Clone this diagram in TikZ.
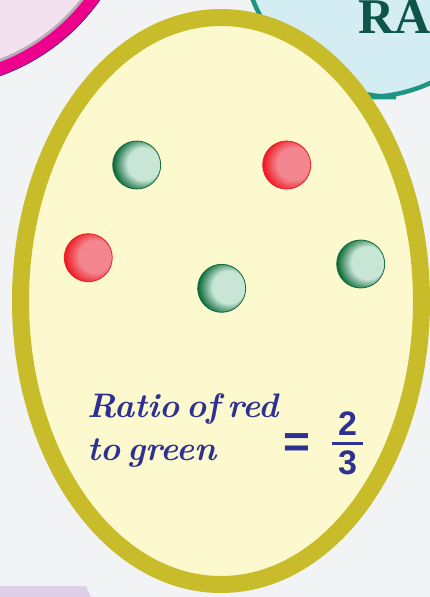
\documentclass[tikz,border=0pt]{standalone}
\usepackage{fontspec}
\usepackage{xcolor}
\usetikzlibrary{positioning}
\newfontfamily\digitfont{Liberation Sans}
\newfontfamily\titlefont{Liberation Serif}
\newcommand\ratiofont{\bfseries\itshape\fontsize{34}{43}\selectfont\spaceskip=0.2em plus 0.05em\relax}
\definecolor{pgGrey}{HTML}{F2F3F5}
\definecolor{pgPink}{HTML}{F3E2EE}
\definecolor{pgMagenta}{HTML}{EC008C}
\definecolor{pgRim}{HTML}{B3B0B8}
\definecolor{pgNavy}{HTML}{2E3192}
\definecolor{pgCyan}{HTML}{D3EDF2}
\definecolor{pgTeal}{HTML}{1E9582}
\definecolor{pgForest}{HTML}{0D5549}
\definecolor{pgLilac}{HTML}{DED0E6}
\definecolor{pgCream}{HTML}{FBF9CD}
\definecolor{pgOlive}{HTML}{C8BC2A}
\definecolor{ballDark}{HTML}{0E6B3B}
\definecolor{ballMint}{HTML}{C8E5D5}
\definecolor{ballRed}{HTML}{ED1C24}
\definecolor{ballRose}{HTML}{F3868F}
\pgfdeclareradialshading{gshade}{\pgfpoint{11bp}{2bp}}{color(0bp)=(ballMint); color(17bp)=(ballMint); color(29bp)=(ballDark); color(50bp)=(ballDark)}
\pgfdeclareradialshading{rshade}{\pgfpoint{11bp}{2bp}}{color(0bp)=(ballRose); color(17bp)=(ballRose); color(29bp)=(ballRed); color(50bp)=(ballRed)}

\begin{document}
\begin{tikzpicture}[
  x=1pt, y=-1pt,
  ball/.style={circle, minimum size=48pt, inner sep=0pt, line width=0.8pt, shade},
  greenball/.style={ball, shading=gshade, draw=ballDark},
  redball/.style={ball, shading=rshade, draw=ballRed},
  ratio/.style={text=pgNavy, inner sep=0pt, font=\ratiofont},
  sums/.style={text=pgNavy, inner sep=0pt,
               font=\digitfont\bfseries\fontsize{34}{40}\selectfont},
  fracbar/.style={pgNavy, line width=3pt}
]
  \useasboundingbox (0,0) rectangle (430,597);
  \fill[pgGrey] (0,0) rectangle (430,597);

  \begin{scope}
    \clip (0,0) rectangle (430,597);
    % neighbouring panels
    \fill[pgPink] (-70,-120) circle[radius=208pt];
    \draw[pgRim, line width=3pt] (-70,-120) circle[radius=193.5pt];
    \draw[pgMagenta, line width=13pt] (-70,-120) circle[radius=201.5pt];
    \draw[pgNavy, line width=0.6pt] (-70,-120) circle[radius=208pt];
    \draw[pgTeal, fill=pgCyan, line width=4.5pt, rounded corners=154pt]
      (242,-220) rectangle (520,97);
    \node[text=pgForest, inner sep=0pt, anchor=base west,
          font=\titlefont\bfseries\fontsize{50}{50}\selectfont]
      (title) at (358,33) {RA};
    \fill[pgLilac] (0,586) -- (86,586) -- (91,597) -- (0,597) -- cycle;
    % the bag
    \draw[pgOlive, fill=pgCream, line width=17pt]
      (221,301) ellipse[x radius=200.5pt, y radius=283.5pt];
  \end{scope}

  \node[greenball] (g1) at (136.7,165) {};
  \node[redball] (r1) at (286.7,165) {};
  \node[redball] (r2) at (88.3,257.7) {};
  \node[greenball] (g2) at (221.7,288.3) {};
  \node[greenball] (g3) at (360.7,264) {};

  \node[ratio, anchor=base west] (ratioA) at (87,417) {Ratio of red};
  \node[ratio, anchor=base west] (ratioB) at ([yshift=-43pt]ratioA.base west) {to green};
  \node[sums, font=\digitfont\bfseries\fontsize{46}{46}\selectfont]
    (eq) at (296.5,446) {=};
  \node[sums] (num) at (347.5,423.5) {2};
  \node[sums] (den) at (347.5,463) {3};
  \coordinate (barL) at (332,443);
  \coordinate (barR) at (363,443);
  \draw[fracbar] (barL) -- (barR);
\end{tikzpicture}
\end{document}
